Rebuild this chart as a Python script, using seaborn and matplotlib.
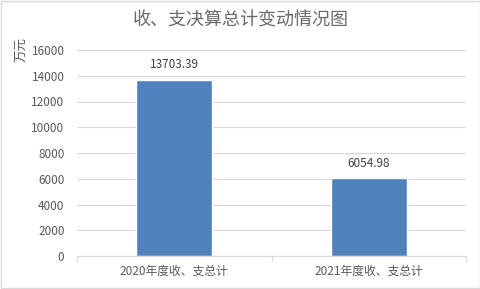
import matplotlib
matplotlib.use("Agg")
import matplotlib.pyplot as plt
import seaborn as sns
import pandas as pd

categories = ["2020年度收、支总计", "2021年度收、支总计"]
values = [13703.39, 6054.98]
value_labels = ["13703.39", "6054.98"]
yticks = [0, 2000, 4000, 6000, 8000, 10000, 12000, 14000, 16000]
title = "收、支决算总计变动情况图"
ylabel = "万元"

sns.set_theme(style="white")
plt.rcParams['font.family'] = ['Noto Sans CJK SC', 'DejaVu Sans']

df = pd.DataFrame({"cat": categories, "val": values})

fig = plt.figure(figsize=(4.81, 2.89), dpi=100)
ax = fig.add_axes([77/481, 1-256/289, (466-77)/481, (256-50)/289])
sns.barplot(data=df, x="cat", y="val", color="#4F81BD", width=0.39, saturation=1, ax=ax)
ax.set_xlim(-0.5, 1.5)
ax.set_ylim(0, 16000)
ax.set_yticks(yticks)
ax.set_yticklabels([str(t) for t in yticks], fontsize=8.5, color="#595959")
ax.tick_params(axis='y', length=0, pad=9)
ax.tick_params(axis='x', length=0, pad=6, labelsize=8.5, labelcolor="#595959")
ax.set_xlabel("")
ax.set_ylabel("")
ax.grid(axis='y', color="#D9D9D9", linewidth=0.8)
ax.set_axisbelow(True)
for s in ["top", "right", "left"]:
    ax.spines[s].set_visible(False)
ax.spines["bottom"].set_color("#D9D9D9")
ax.spines["bottom"].set_linewidth(0.8)
# category separator ticks
for xv in [-0.5, 0.5, 1.5]:
    ax.plot([xv, xv], [0, -0.025], transform=ax.get_xaxis_transform(), color="#D9D9D9", lw=0.8, clip_on=False)

for i, (v, lab) in enumerate(zip(values, value_labels)):
    ax.annotate(lab, (i, v), xytext=(0, 6), textcoords="offset points", ha="center", va="bottom",
                fontsize=8.5, color="#404040")

fig.text(0.5, 1-21/289, title, ha="center", va="center", fontsize=13, color="#6a6a6a")
fig.text(22/481, 1-50/289, ylabel, ha="center", va="center", rotation=90, fontsize=9, color="#595959")

# figure border
fig.patches.append(plt.Rectangle((0.002, 0.003), 0.995, 0.994, transform=fig.transFigure,
                                 fill=False, edgecolor="#D9D9D9", lw=1))
fig.savefig("out.png", dpi=100)
